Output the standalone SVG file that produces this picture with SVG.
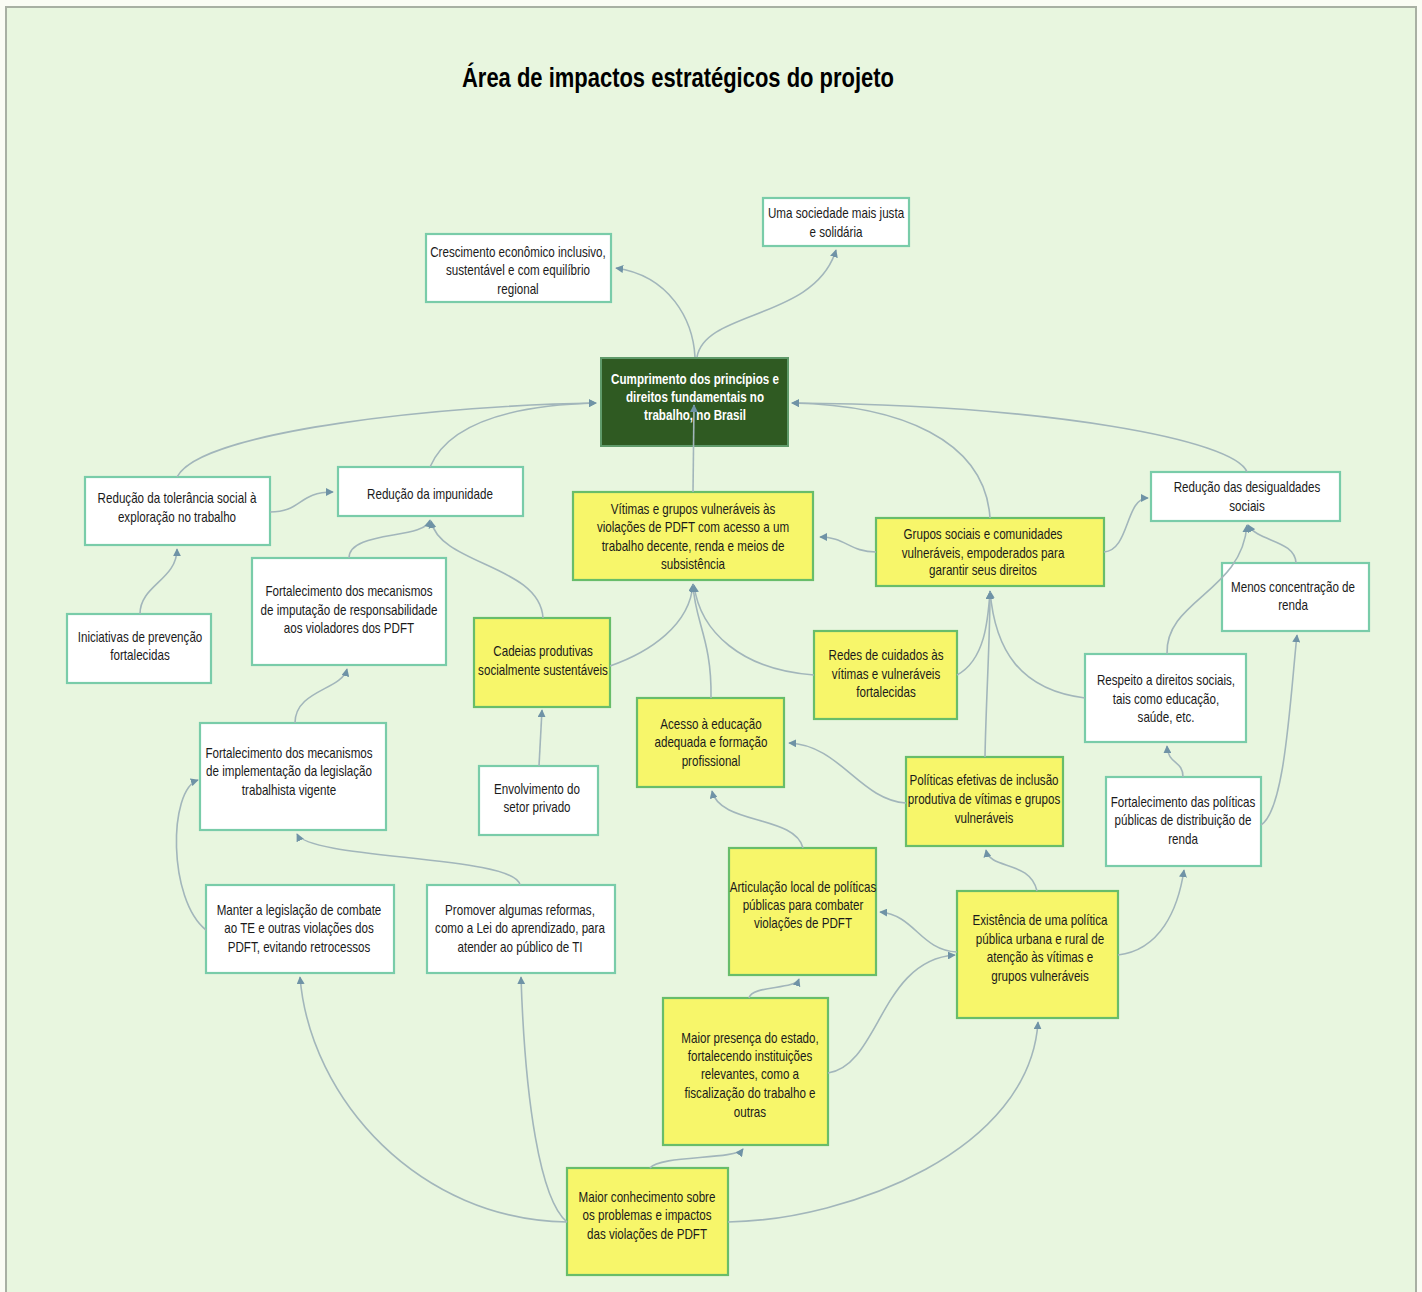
<svg xmlns="http://www.w3.org/2000/svg" width="1422" height="1292" viewBox="0 0 1422 1292">
<style>
.bg{fill:#fafcf4}
.frame{fill:#e8f6df;stroke:#a8b0a3;stroke-width:2}
.w rect{fill:#ffffff;stroke:#79cca9;stroke-width:2.2}
.y rect{fill:#f7f66a;stroke:#68bd6a;stroke-width:2.2}
.c rect{fill:#2f5a22;stroke:#5f9a6a;stroke-width:2}
text{font-family:"Liberation Sans",Arial,sans-serif;font-size:14px;fill:#1a1a1a;text-anchor:middle}
.c text{fill:#ffffff;font-weight:bold}
.title{font-size:28px;font-weight:bold;fill:#000}
.e path{fill:none;stroke:#a2b6bb;stroke-width:1.6;marker-end:url(#ah)}
</style>
<defs>
<marker id="ah" viewBox="0 0 10 10" refX="9" refY="5" markerWidth="5" markerHeight="5" orient="auto" markerUnits="strokeWidth">
<path d="M0,0 L10,5 L0,10 z" fill="#6f93a6"/>
</marker>
</defs>
<rect class="bg" x="0" y="0" width="1422" height="1292"/>
<rect class="frame" x="6" y="7" width="1410" height="1300"/>
<text class="title" x="678" y="87" textLength="432" lengthAdjust="spacingAndGlyphs">Área de impactos estratégicos do projeto</text>

<g id="A" class="w"><rect x="763" y="198" width="146" height="48"/><text transform="translate(836 0) scale(0.83 1)"><tspan x="0" y="218">Uma sociedade mais justa</tspan><tspan x="0" y="237">e solidária</tspan></text></g>
<g id="B" class="w"><rect x="426" y="234" width="185" height="68"/><text transform="translate(518 0) scale(0.83 1)"><tspan x="0" y="257">Crescimento econômico inclusivo,</tspan><tspan x="0" y="275">sustentável e com equilíbrio</tspan><tspan x="0" y="294">regional</tspan></text></g>
<g id="C" class="c"><rect x="601" y="358" width="187" height="88"/><text transform="translate(695 0) scale(0.83 1)"><tspan x="0" y="384">Cumprimento dos princípios e</tspan><tspan x="0" y="402">direitos fundamentais no</tspan><tspan x="0" y="420">trabalho, no Brasil</tspan></text></g>
<g id="D" class="w"><rect x="85" y="477" width="185" height="68"/><text transform="translate(177 0) scale(0.83 1)"><tspan x="0" y="503">Redução da tolerância social à</tspan><tspan x="0" y="522">exploração no trabalho</tspan></text></g>
<g id="E" class="w"><rect x="338" y="467" width="185" height="49"/><text transform="translate(430 0) scale(0.83 1)"><tspan x="0" y="499">Redução da impunidade</tspan></text></g>
<g id="F" class="y"><rect x="573" y="492" width="240" height="88"/><text transform="translate(693 0) scale(0.83 1)"><tspan x="0" y="514">Vítimas e grupos vulneráveis às</tspan><tspan x="0" y="532">violações de PDFT com acesso a um</tspan><tspan x="0" y="551">trabalho decente, renda e meios de</tspan><tspan x="0" y="569">subsistência</tspan></text></g>
<g id="G" class="y"><rect x="876" y="518" width="228" height="68"/><text transform="translate(983 0) scale(0.83 1)"><tspan x="0" y="539">Grupos sociais e comunidades</tspan><tspan x="0" y="558">vulneráveis, empoderados para</tspan><tspan x="0" y="575">garantir seus direitos</tspan></text></g>
<g id="H" class="w"><rect x="1151" y="472" width="189" height="49"/><text transform="translate(1247 0) scale(0.83 1)"><tspan x="0" y="492">Redução das desigualdades</tspan><tspan x="0" y="511">sociais</tspan></text></g>
<g id="I" class="w"><rect x="1222" y="563" width="147" height="68"/><text transform="translate(1293 0) scale(0.83 1)"><tspan x="0" y="592">Menos concentração de</tspan><tspan x="0" y="610">renda</tspan></text></g>
<g id="J" class="w"><rect x="67" y="614" width="144" height="69"/><text transform="translate(140 0) scale(0.83 1)"><tspan x="0" y="642">Iniciativas de prevenção</tspan><tspan x="0" y="660">fortalecidas</tspan></text></g>
<g id="K" class="w"><rect x="252" y="558" width="194" height="107"/><text transform="translate(349 0) scale(0.83 1)"><tspan x="0" y="596">Fortalecimento dos mecanismos</tspan><tspan x="0" y="615">de imputação de responsabilidade</tspan><tspan x="0" y="633">aos violadores dos PDFT</tspan></text></g>
<g id="L" class="y"><rect x="474" y="618" width="136" height="89"/><text transform="translate(543 0) scale(0.83 1)"><tspan x="0" y="656">Cadeias produtivas</tspan><tspan x="0" y="675">socialmente sustentáveis</tspan></text></g>
<g id="M" class="y"><rect x="814" y="631" width="143" height="88"/><text transform="translate(886 0) scale(0.83 1)"><tspan x="0" y="660">Redes de cuidados às</tspan><tspan x="0" y="679">vítimas e vulneráveis</tspan><tspan x="0" y="697">fortalecidas</tspan></text></g>
<g id="N" class="w"><rect x="1085" y="654" width="161" height="88"/><text transform="translate(1166 0) scale(0.83 1)"><tspan x="0" y="685">Respeito a direitos sociais,</tspan><tspan x="0" y="704">tais como educação,</tspan><tspan x="0" y="722">saúde, etc.</tspan></text></g>
<g id="O" class="y"><rect x="637" y="698" width="147" height="89"/><text transform="translate(711 0) scale(0.83 1)"><tspan x="0" y="729">Acesso à educação</tspan><tspan x="0" y="747">adequada e formação</tspan><tspan x="0" y="766">profissional</tspan></text></g>
<g id="P" class="w"><rect x="200" y="723" width="186" height="107"/><text transform="translate(289 0) scale(0.83 1)"><tspan x="0" y="758">Fortalecimento dos mecanismos</tspan><tspan x="0" y="776">de implementação da legislação</tspan><tspan x="0" y="795">trabalhista vigente</tspan></text></g>
<g id="Q" class="w"><rect x="479" y="766" width="119" height="69"/><text transform="translate(537 0) scale(0.83 1)"><tspan x="0" y="794">Envolvimento do</tspan><tspan x="0" y="812">setor privado</tspan></text></g>
<g id="R" class="y"><rect x="906" y="757" width="157" height="89"/><text transform="translate(984 0) scale(0.83 1)"><tspan x="0" y="785">Políticas efetivas de inclusão</tspan><tspan x="0" y="804">produtiva de vítimas e grupos</tspan><tspan x="0" y="823">vulneráveis</tspan></text></g>
<g id="S" class="w"><rect x="1106" y="777" width="155" height="89"/><text transform="translate(1183 0) scale(0.83 1)"><tspan x="0" y="807">Fortalecimento das políticas</tspan><tspan x="0" y="825">públicas de distribuição de</tspan><tspan x="0" y="844">renda</tspan></text></g>
<g id="T" class="y"><rect x="729" y="848" width="147" height="127"/><text transform="translate(803 0) scale(0.83 1)"><tspan x="0" y="892">Articulação local de políticas</tspan><tspan x="0" y="910">públicas para combater</tspan><tspan x="0" y="928">violações de PDFT</tspan></text></g>
<g id="U" class="y"><rect x="957" y="891" width="161" height="127"/><text transform="translate(1040 0) scale(0.83 1)"><tspan x="0" y="925">Existência de uma política</tspan><tspan x="0" y="944">pública urbana e rural de</tspan><tspan x="0" y="962">atenção às vítimas e</tspan><tspan x="0" y="981">grupos vulneráveis</tspan></text></g>
<g id="V" class="w"><rect x="206" y="885" width="188" height="88"/><text transform="translate(299 0) scale(0.83 1)"><tspan x="0" y="915">Manter a legislação de combate</tspan><tspan x="0" y="933">ao TE e outras violações dos</tspan><tspan x="0" y="952">PDFT, evitando retrocessos</tspan></text></g>
<g id="W" class="w"><rect x="427" y="885" width="188" height="88"/><text transform="translate(520 0) scale(0.83 1)"><tspan x="0" y="915">Promover algumas reformas,</tspan><tspan x="0" y="933">como a Lei do aprendizado, para</tspan><tspan x="0" y="952">atender ao público de TI</tspan></text></g>
<g id="X" class="y"><rect x="663" y="998" width="165" height="147"/><text transform="translate(750 0) scale(0.83 1)"><tspan x="0" y="1043">Maior presença do estado,</tspan><tspan x="0" y="1061">fortalecendo instituições</tspan><tspan x="0" y="1079">relevantes, como a</tspan><tspan x="0" y="1098">fiscalização do trabalho e</tspan><tspan x="0" y="1117">outras</tspan></text></g>
<g id="Y" class="y"><rect x="567" y="1168" width="161" height="107"/><text transform="translate(647 0) scale(0.83 1)"><tspan x="0" y="1202">Maior conhecimento sobre</tspan><tspan x="0" y="1220">os problemas e impactos</tspan><tspan x="0" y="1239">das violações de PDFT</tspan></text></g>

<g id="connectors" class="e">
<path d="M695,357 C 693,320 670,276 616,268"/>
<path d="M697,357 C 705,310 815,320 836,250"/>
<path d="M177,477 C 200,430 450,405 596,403"/>
<path d="M430,467 C 450,420 520,405 596,403"/>
<path d="M270,512 C 302,512 298,492 333,492"/>
<path d="M140,614 C 140,585 177,580 177,549"/>
<path d="M349,558 C 349,530 425,540 430,520"/>
<path d="M543,618 C 540,565 440,565 431,521"/>
<path d="M295,723 C 295,690 342,690 347,669"/>
<path d="M206,930 C 168,900 168,790 198,780"/>
<path d="M520,885 C 515,855 310,860 297,834"/>
<path d="M539,766 L 542,710"/>
<path d="M610,666 C 650,652 690,625 693,584"/>
<path d="M711,698 C 712,640 695,622 693,585"/>
<path d="M814,675 C 742,670 700,632 694,585"/>
<path d="M693,492 L 694,405"/>
<path d="M876,552 C 850,552 845,537 820,537"/>
<path d="M990,518 C 985,440 900,405 792,403"/>
<path d="M1247,472 C 1235,440 1050,405 792,403"/>
<path d="M1104,552 C 1130,550 1125,498 1148,498"/>
<path d="M1296,563 C 1295,540 1258,542 1248,525"/>
<path d="M1167,654 C 1165,600 1242,592 1247,525"/>
<path d="M1085,698 C 1020,690 995,650 990,591"/>
<path d="M957,675 C 985,660 988,620 990,592"/>
<path d="M985,757 C 986,700 990,640 990,592"/>
<path d="M906,803 C 860,800 840,745 789,743"/>
<path d="M1037,891 C 1030,860 990,870 986,850"/>
<path d="M1183,777 C 1183,760 1168,765 1167,746"/>
<path d="M1261,825 C 1285,810 1290,700 1297,635"/>
<path d="M1118,955 C 1160,950 1178,910 1184,870"/>
<path d="M803,848 C 795,815 720,825 712,791"/>
<path d="M957,952 C 920,950 915,915 880,912"/>
<path d="M828,1073 C 880,1065 880,960 955,955"/>
<path d="M749,998 C 752,985 795,990 799,979"/>
<path d="M650,1168 C 660,1155 735,1160 743,1149"/>
<path d="M567,1222 C 420,1220 310,1100 300,977"/>
<path d="M567,1222 C 540,1200 525,1100 521,977"/>
<path d="M728,1222 C 850,1220 1030,1150 1038,1022"/>
</g>
</svg>
